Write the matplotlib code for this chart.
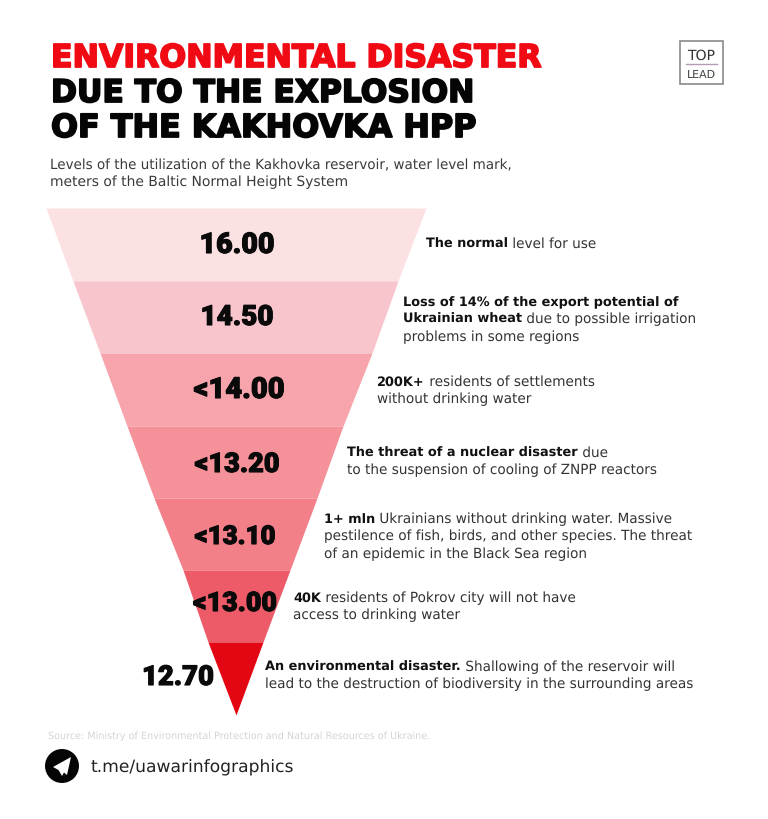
import matplotlib
matplotlib.use("Agg")
import matplotlib.pyplot as plt
import matplotlib.patheffects as pe
from matplotlib.patches import Circle, Rectangle, Polygon

W, H = 768, 819
FONT = "DejaVu Sans"
HEAVY = "Roboto"
plt.rcParams["font.family"] = [FONT]
plt.rcParams["text.hinting"] = "none"

title_lines = ["ENVIRONMENTAL DISASTER", "DUE TO THE EXPLOSION", "OF THE KAKHOVKA HPP"]
subtitle_lines = ["Levels of the utilization of the Kakhovka reservoir, water level mark,",
                  "meters of the Baltic Normal Height System"]
levels = ["16.00", "14.50", "<14.00", "<13.20", "<13.10", "<13.00", "12.70"]
band_edges = [208, 281, 353, 426, 498, 570, 642, 715]
band_left = [46, 73, 100, 127, 154, 183, 208, 236]
band_right = [426, 398, 372, 343, 317, 290, 263, 236]
band_colors = ["#fce1e3", "#f9c5cc", "#f8a4ad", "#f59199", "#f37f89", "#ee5b68", "#e30613"]
level_x = [237, 237, 239, 237, 235, 235, 178]
level_base = [253, 325, 398, 472, 544, 611, 685]
level_widths = [75, 73, 91, 85, 81, 84, 72]
notes = [
    (426, [[("The normal", True), (" level for use", False)]]),
    (403, [[("Loss of 14% of the export potential of", True)],
           [("Ukrainian wheat", True), (" due to possible irrigation", False)],
           [("problems in some regions", False)]]),
    (377, [[("200K+", True), (" residents of settlements", False)],
           [("without drinking water", False)]]),
    (347, [[("The threat of a nuclear disaster", True), (" due", False)],
           [("to the suspension of cooling of ZNPP reactors", False)]]),
    (324, [[("1+ mln", True), (" Ukrainians without drinking water. Massive", False)],
           [("pestilence of fish, birds, and other species. The threat", False)],
           [("of an epidemic in the Black Sea region", False)]]),
    (293, [[("40K", True), (" residents of Pokrov city will not have", False)],
           [("access to drinking water", False)]]),
    (265, [[("An environmental disaster.", True), (" Shallowing of the reservoir will", False)],
           [("lead to the destruction of biodiversity in the surrounding areas", False)]]),
]
note_first_baseline = [248, 306, 386, 457, 523, 602, 671]
source_text = "Source: Ministry of Environmental Protection and Natural Resources of Ukraine."
link_text = "t.me/uawarinfographics"

fig = plt.figure(figsize=(W / 100, H / 100), dpi=100, facecolor="white")
ax = fig.add_axes([0, 0, 1, 1])
ax.set_xlim(0, W)
ax.set_ylim(H, 0)
ax.axis("off")
fig.canvas.draw()
renderer = fig.canvas.get_renderer()


def fit(x, y, s, width, color, weight="normal", stroke=0.0, ha="left", family=None):
    """Place text and scale its font size to span the measured pixel width."""
    t = ax.text(x, y, s, fontsize=10, color=color, fontweight=weight, ha=ha, va="baseline",
                family=family or FONT)
    w = t.get_window_extent(renderer).width
    t.set_fontsize(10 * width / w)
    if stroke:
        t.set_path_effects([pe.withStroke(linewidth=stroke, foreground=color)])
    return t


# Funnel
for i, c in enumerate(band_colors):
    ax.fill_betweenx([band_edges[i], band_edges[i + 1]],
                     [band_left[i], band_left[i + 1]],
                     [band_right[i], band_right[i + 1]],
                     color=c, linewidth=0)
    fit(level_x[i], level_base[i], levels[i], level_widths[i], "#0a0a0a", 900, 0.8,
        ha="center", family=HEAVY)

# Title and subtitle
title_widths = [490, 423, 425]
title_base = [67, 102, 137]
title_colors = ["#f00a14", "#050505", "#050505"]
for s, w, b, c in zip(title_lines, title_widths, title_base, title_colors):
    fit(51, b, s, w, c, "bold", 1.3)
fit(50, 169, subtitle_lines[0], 463, "#3a3a3a")
fit(50, 186, subtitle_lines[1], 299, "#3a3a3a")

# Notes
REG_SIZE = 9.85
BOLD_SIZE = 9.3
for (x0, lines), base in zip(notes, note_first_baseline):
    for j, line in enumerate(lines):
        x = x0
        y = base + j * 17.3
        for s, bold in line:
            size = BOLD_SIZE if bold else REG_SIZE
            t = ax.text(x, y, s, fontsize=size,
                        color="#111111" if bold else "#333333",
                        fontweight="bold" if bold else "normal", va="baseline")
            # keep the leading space, which extents ignore
            probe = ax.text(0, 0, "|" + s + "|", fontsize=size, fontweight=t.get_fontweight())
            bar = ax.text(0, 0, "||", fontsize=size, fontweight=t.get_fontweight())
            adv = probe.get_window_extent(renderer).width - bar.get_window_extent(renderer).width
            probe.remove()
            bar.remove()
            x += adv

# Footer
fit(48, 739, source_text, 382, "#d4d4d4")
ax.add_patch(Circle((62, 766), 17, color="#050505", lw=0))
ax.add_patch(Polygon([[71, 757], [53, 767], [58.5, 770], [62, 776], [64, 772.5], [67, 775]],
                     closed=True, color="white", lw=0))
fit(91, 772, link_text, 203, "#222222")

# Logo
ax.add_patch(Rectangle((680, 41), 43, 43, fill=False, ec="#8a8a8a", lw=1.2))
ax.plot([686, 717], [63.5, 63.5], color="#b79ab5", lw=1)
fit(701.5, 59.5, "TOP", 28, "#333333", ha="center")
fit(701.5, 78, "LEAD", 29, "#444444", ha="center")

fig.savefig("out.png", dpi=100, facecolor="white")
